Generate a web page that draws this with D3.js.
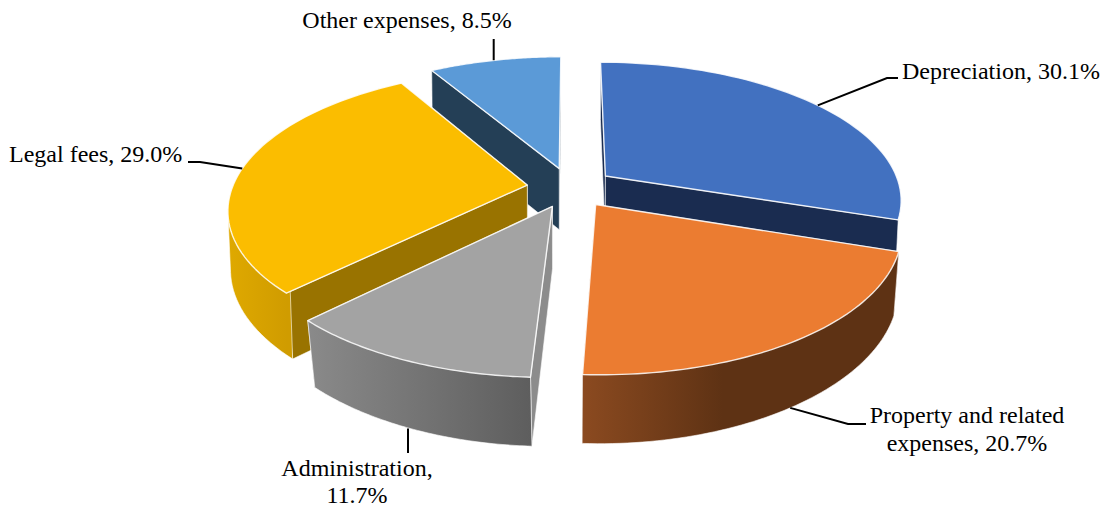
<!DOCTYPE html>
<html>
<head>
<meta charset="utf-8">
<style>
  html, body { margin: 0; padding: 0; background: #fff; }
  svg { display: block; }
  text { font-family: "Liberation Serif", serif; font-size: 24px; fill: #000; }
</style>
<script src="https://cdn.jsdelivr.net/npm/d3@7/dist/d3.min.js"></script>
</head>
<body>
<svg id="chart" width="1107" height="508"></svg>
<script>
// Expense shares, clockwise from twelve o'clock
const categories = ["Depreciation", "Property and related expenses", "Administration", "Legal fees", "Other expenses"];
const shares = [30.1, 20.7, 11.7, 29.0, 8.5];

// Label lines for each slice
const labelLines = [
  ["Depreciation, 30.1%"],
  ["Property and related", "expenses, 20.7%"],
  ["Administration,", "11.7%"],
  ["Legal fees, 29.0%"],
  ["Other expenses, 8.5%"]
];

// Colours: top face, cut faces, and outer wall gradient stops
const topColors = ["#4271c0", "#eb7c31", "#a3a3a3", "#fbbd00", "#5b9ad7"];
const cutColors = ["#1a2c50", "#5e3214", "#8c8c8c", "#997300", "#243f56"];
const wallFrom = ["#29447a", "#8b4a20", "#8a8a8a", "#dfa900", "#375d80"];
const wallTo = ["#29447a", "#5e3214", "#5e5e5e", "#d09c00", "#375d80"];

// Label placement: text anchor point, line spacing, leader elbow
const labelX = [902, 967, 357, 9, 407];
const labelY = [78.5, 423, 476, 162, 28];
const labelLeading = [28, 28, 27, 28, 28];
const labelAnchor = ["start", "middle", "middle", "start", "middle"];
const elbows = [[[887, 78], [898, 78]], [[848, 424], [866, 424]], [[408, 453]], [[200, 162], [188, 162]], [[493.7, 39]]];

// Projection of the tilted disc
const cx = 570.5, cy = 187.6;
const radiusX = 295, radiusY = 136, perspective = 0.1645, explode = 0.148;
const wallHeight = 61.8, wallStretch = 0.038, shrinkBase = 0.004, shrinkSlope = 0.00017;

const svg = d3.select("#chart");
const defs = svg.append("defs");

const pie = d3.pie().sort(null).value(d => d);
const arcs = pie(shares);

// Disc coordinates (u to the right, v toward the viewer) to screen
function project(u, v) {
  const depth = 1 - perspective * v;
  return [cx + radiusX * u / depth, cy + radiusY * v / depth];
}
// Same point on the underside of the disc
function floor(p) {
  const dy = p[1] - cy;
  const shrink = 1 - shrinkBase - shrinkSlope * Math.max(dy, 0);
  return [cx + (p[0] - cx) * shrink, p[1] + wallHeight + wallStretch * dy];
}

const lineGen = d3.line();

// Rear slices first so nearer ones paint over them
const paintOrder = [4, 0, 3, 2, 1];

paintOrder.forEach(i => {
  const arc = arcs[i];
  const mid = (arc.startAngle + arc.endAngle) / 2;
  const ou = explode * Math.sin(mid), ov = -explode * Math.cos(mid);
  const rim = a => project(ou + Math.sin(a), ov - Math.cos(a));
  const apex = project(ou, ov);
  const steps = d3.range(0, 61).map(k => arc.startAngle + (arc.endAngle - arc.startAngle) * k / 60);
  const rimPts = steps.map(rim);

  const g = svg.append("g").attr("class", "slice");

  // Radial cut faces, the one nearer the back painted first
  [arc.startAngle, arc.endAngle]
    .map(rim)
    .sort((a, b) => a[1] - b[1])
    .forEach(p => {
      g.append("path")
        .attr("d", lineGen([p, apex, floor(apex), floor(p)]) + "Z")
        .attr("fill", cutColors[i])
        .attr("stroke", "#fff").attr("stroke-opacity", 0.75).attr("stroke-width", 0.8);
    });

  // Outer wall on the part of the rim that faces the viewer; the hull
  // keeps the silhouette straight where the rim turns away
  const facing = steps.filter(a => a > 1.88 && a < 5.2).map(rim);
  if (facing.length > 1) {
    const id = "wall" + i;
    const xs = d3.extent(facing, p => p[0]);
    const grad = defs.append("linearGradient").attr("id", id)
      .attr("gradientUnits", "userSpaceOnUse")
      .attr("x1", xs[0]).attr("x2", i === 1 ? xs[0] + 140 : xs[1]).attr("y1", 0).attr("y2", 0);
    grad.append("stop").attr("offset", 0).attr("stop-color", wallFrom[i]);
    grad.append("stop").attr("offset", 1).attr("stop-color", wallTo[i]);
    const hull = d3.polygonHull(facing.concat(facing.map(floor)));
    g.append("path")
      .attr("d", lineGen(hull) + "Z")
      .attr("fill", `url(#${id})`)
      .attr("stroke", "#fff").attr("stroke-opacity", 0.75).attr("stroke-width", 0.8);
  }

  // Top face
  g.append("path")
    .attr("d", lineGen([apex].concat(rimPts)) + "Z")
    .attr("fill", topColors[i])
    .attr("stroke", "#fff").attr("stroke-opacity", 0.85).attr("stroke-width", 1.4)
    .attr("stroke-linejoin", "round");
});

// Leaders and labels
arcs.forEach((arc, i) => {
  const mid = (arc.startAngle + arc.endAngle) / 2;
  const ou = explode * Math.sin(mid), ov = -explode * Math.cos(mid);
  let start = project(ou + Math.sin(mid), ov - Math.cos(mid));
  if (Math.cos(mid) < -0.5) start = floor(start);
  // A single-point leader runs straight up or down from the rim
  if (elbows[i].length === 1) start = [elbows[i][0][0], start[1]];
  svg.append("path")
    .attr("d", lineGen([start].concat(elbows[i])))
    .attr("fill", "none").attr("stroke", "#000").attr("stroke-width", 2);

  const text = svg.append("text")
    .attr("x", labelX[i]).attr("y", labelY[i])
    .attr("text-anchor", labelAnchor[i]);
  labelLines[i].forEach((line, k) => {
    text.append("tspan").attr("x", labelX[i]).attr("dy", k ? labelLeading[i] : 0).text(line);
  });
});
</script>
</body>
</html>
